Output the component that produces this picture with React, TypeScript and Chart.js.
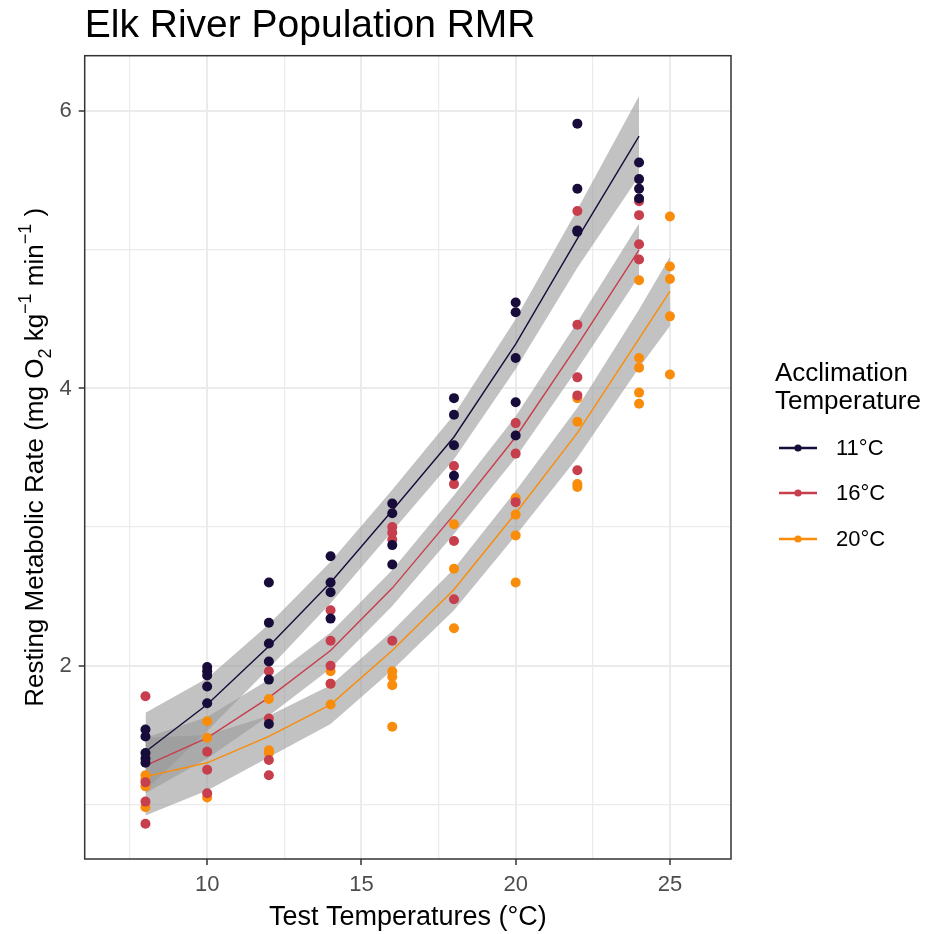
import React, { useEffect, useRef } from "react";
import { Chart, registerables } from "chart.js";

Chart.register(...registerables);

// ---------- data ----------
const testTemps = [8, 10, 12, 14, 16, 18, 20, 22, 24];
const testTemps20 = [8, 10, 12, 14, 16, 18, 20, 22, 24, 25];
const groupLabels = ["11°C", "16°C", "20°C"];
const groupColors = ["#170C3A", "#C73E4C", "#F98C0A"];

// observed RMR per test temperature (aligned with testTemps / testTemps20)
const rmr11 = [
  [1.54, 1.49, 1.37, 1.33, 1.3],
  [1.99, 1.96, 1.93, 1.85, 1.73],
  [2.6, 2.31, 2.16, 2.03, 1.9, 1.58],
  [2.79, 2.6, 2.53, 2.34],
  [3.17, 3.1, 2.87, 2.73],
  [3.93, 3.81, 3.59, 3.37],
  [4.62, 4.55, 4.22, 3.9, 3.66],
  [5.91, 5.44, 5.14, 5.13],
  [5.63, 5.51, 5.44, 5.37],
];
const rmr16 = [
  [1.78, 1.16, 1.02, 0.86],
  [1.38, 1.25, 1.08],
  [1.96, 1.62, 1.32, 1.21],
  [2.4, 2.18, 2.0, 1.87],
  [3.0, 2.96, 2.91, 2.18],
  [3.44, 3.31, 2.9, 2.48],
  [3.75, 3.53, 3.18],
  [5.28, 4.46, 4.08, 3.95, 3.41],
  [5.35, 5.25, 5.04, 4.93],
];
const rmr20 = [
  [1.21, 1.18, 1.13, 0.98],
  [1.6, 1.48, 1.05],
  [1.76, 1.39, 1.37],
  [1.96, 1.87, 1.72],
  [1.96, 1.92, 1.86, 1.56],
  [3.02, 2.7, 2.27],
  [3.21, 3.09, 2.94, 2.6],
  [3.93, 3.76, 3.31, 3.29],
  [4.78, 4.22, 4.15, 3.97, 3.89],
  [5.24, 4.88, 4.79, 4.52, 4.1],
];

// fitted values and confidence bands
const fit11 = [1.38, 1.72, 2.14, 2.6, 3.12, 3.65, 4.32, 5.08, 5.82];
const lower11 = [1.1, 1.53, 1.98, 2.45, 2.97, 3.49, 4.14, 4.87, 5.53];
const upper11 = [1.66, 1.91, 2.3, 2.75, 3.27, 3.81, 4.5, 5.29, 6.11];

const fit16 = [1.28, 1.48, 1.77, 2.11, 2.56, 3.09, 3.65, 4.31, 5.0];
const lower16 = [1.08, 1.33, 1.64, 1.98, 2.43, 2.95, 3.5, 4.14, 4.81];
const upper16 = [1.48, 1.63, 1.9, 2.24, 2.69, 3.23, 3.8, 4.48, 5.19];

const fit20 = [1.2, 1.3, 1.49, 1.72, 2.11, 2.55, 3.1, 3.68, 4.36, 4.7];
const lower20 = [0.92, 1.1, 1.34, 1.58, 1.97, 2.4, 2.94, 3.5, 4.15, 4.45];
const upper20 = [1.48, 1.5, 1.64, 1.86, 2.25, 2.7, 3.26, 3.86, 4.57, 4.95];

const xTicks = [7.5, 10, 12.5, 15, 17.5, 20, 22.5, 25];
const xMajor = [10, 15, 20, 25];
const yTicks = [1, 2, 3, 4, 5, 6];
const yMajor = [2, 4, 6];

const titleText = "Elk River Population RMR";
const xTitleText = "Test Temperatures (°C)";
const legendTitle = ["Acclimation", "Temperature"];

// ---------- layout ----------
const W = 927;
const H = 934;
const FONT = "'Liberation Sans', Arial, Helvetica, sans-serif";

const toPoints = (xs: number[], groups: number[][]) =>
  groups.flatMap((vals, i) => vals.map((v) => ({ x: xs[i], y: v })));
const toLine = (xs: number[], ys: number[]) => ys.map((v, i) => ({ x: xs[i], y: v }));

const decorPlugin = {
  id: "decor",
  afterDatasetsDraw(chart: any) {
    const { ctx, chartArea: a } = chart;
    ctx.save();
    ctx.strokeStyle = "#333333";
    ctx.lineWidth = 1.5;
    ctx.strokeRect(a.left, a.top, a.right - a.left, a.bottom - a.top);
    ctx.restore();
  },
  afterDraw(chart: any) {
    const { ctx, chartArea: a } = chart;
    ctx.save();
    ctx.fillStyle = "#000000";
    ctx.textBaseline = "alphabetic";

    // title
    ctx.font = `39px ${FONT}`;
    ctx.textAlign = "left";
    ctx.fillText(titleText, a.left, 37);

    // x title
    ctx.font = `27px ${FONT}`;
    ctx.textAlign = "center";
    ctx.fillText(xTitleText, (a.left + a.right) / 2, 925);

    // y title with sub/superscripts
    const size = 26;
    const small = Math.round(size * 0.7);
    const segs = [
      { t: "Resting Metabolic Rate (mg O", s: size, dy: 0 },
      { t: "2", s: small, dy: 0.3 * size },
      { t: " kg", s: size, dy: 0 },
      { t: "−1", s: small, dy: -0.45 * size },
      { t: " min", s: size, dy: 0 },
      { t: "−1", s: small, dy: -0.45 * size },
      { t: " )", s: size, dy: 0 },
    ];
    let total = 0;
    const widths = segs.map((sg) => {
      ctx.font = `${sg.s}px ${FONT}`;
      const w = ctx.measureText(sg.t).width;
      total += w;
      return w;
    });
    ctx.translate(43, (a.top + a.bottom) / 2);
    ctx.rotate(-Math.PI / 2);
    ctx.textAlign = "left";
    let cx = -total / 2;
    segs.forEach((sg, i) => {
      ctx.font = `${sg.s}px ${FONT}`;
      ctx.fillText(sg.t, cx, sg.dy);
      cx += widths[i];
    });
    ctx.setTransform(1, 0, 0, 1, 0, 0);

    // legend
    ctx.font = `26px ${FONT}`;
    ctx.textAlign = "left";
    ctx.fillText(legendTitle[0], 775, 381);
    ctx.fillText(legendTitle[1], 775, 409);
    const keyY = [448, 493, 539];
    groupLabels.forEach((lab, i) => {
      const y = keyY[i];
      ctx.strokeStyle = groupColors[i];
      ctx.lineWidth = 2.5;
      ctx.beginPath();
      ctx.moveTo(779, y);
      ctx.lineTo(817, y);
      ctx.stroke();
      ctx.fillStyle = groupColors[i];
      ctx.beginPath();
      ctx.arc(798, y, 3.6, 0, Math.PI * 2);
      ctx.fill();
      ctx.fillStyle = "#000000";
      ctx.font = `22px ${FONT}`;
      ctx.textBaseline = "middle";
      ctx.fillText(lab, 836, y + 1);
      ctx.textBaseline = "alphabetic";
    });
    ctx.restore();
  },
};

export default function App() {
  const ref = useRef<HTMLCanvasElement | null>(null);

  useEffect(() => {
    if (!ref.current) return;
    const band = "rgba(153,153,153,0.6)";
    const fits = [
      { xs: testTemps, fit: fit11, lo: lower11, hi: upper11, pts: rmr11 },
      { xs: testTemps, fit: fit16, lo: lower16, hi: upper16, pts: rmr16 },
      { xs: testTemps20, fit: fit20, lo: lower20, hi: upper20, pts: rmr20 },
    ];
    const datasets: any[] = [];
    fits.forEach((g, i) => {
      datasets.push({
        type: "scatter",
        label: groupLabels[i],
        data: toPoints(g.xs, g.pts),
        backgroundColor: groupColors[i],
        borderWidth: 0,
        pointRadius: 5,
        pointHoverRadius: 5,
        order: 0,
      });
    });
    fits.forEach((g, i) => {
      datasets.push({
        type: "line",
        label: groupLabels[i] + " fit",
        data: toLine(g.xs, g.fit),
        borderColor: groupColors[i],
        borderWidth: 1.4,
        pointRadius: 0,
        fill: false,
        tension: 0,
        order: 1,
      });
    });
    fits.forEach((g, i) => {
      datasets.push({
        type: "line",
        label: groupLabels[i] + " lower",
        data: toLine(g.xs, g.lo),
        borderColor: "transparent",
        borderWidth: 1,
        pointRadius: 0,
        fill: false,
        order: 2,
      });
      datasets.push({
        type: "line",
        label: groupLabels[i] + " upper",
        data: toLine(g.xs, g.hi),
        borderColor: "transparent",
        borderWidth: 1,
        pointRadius: 0,
        backgroundColor: band,
        fill: "-1",
        order: 2,
      });
    });

    const chart = new Chart(ref.current, {
      type: "scatter",
      data: { datasets },
      plugins: [decorPlugin],
      options: {
        responsive: false,
        devicePixelRatio: 1,
        animation: false,
        events: [],
        layout: { padding: { top: 55.7, right: W - 731, bottom: 0, left: 0 } },
        plugins: {
          legend: { display: false },
          tooltip: { enabled: false },
          title: { display: false },
        },
        scales: {
          x: {
            type: "linear",
            min: 6.03,
            max: 26.98,
            afterBuildTicks: (s: any) => {
              s.ticks = xTicks.map((v) => ({ value: v }));
            },
            afterFit: (s: any) => {
              s.height = H - 859;
            },
            ticks: {
              autoSkip: false,
              maxRotation: 0,
              padding: 7,
              color: "#4D4D4D",
              font: { size: 22, family: FONT },
              callback: (v: any) => (xMajor.includes(Number(v)) ? String(v) : ""),
            },
            grid: {
              color: "#EBEBEB",
              lineWidth: (c: any) => (xMajor.includes(c.tick?.value) ? 2 : 1.2),
              tickColor: (c: any) => (xMajor.includes(c.tick?.value) ? "#333333" : "rgba(0,0,0,0)"),
              tickWidth: 1.5,
              tickLength: 6,
              drawTicks: true,
            },
            border: { display: false },
          },
          y: {
            type: "linear",
            min: 0.606,
            max: 6.4,
            afterBuildTicks: (s: any) => {
              s.ticks = yTicks.map((v) => ({ value: v }));
            },
            afterFit: (s: any) => {
              s.width = 84.7;
            },
            ticks: {
              autoSkip: false,
              padding: 7,
              color: "#4D4D4D",
              font: { size: 22, family: FONT },
              callback: (v: any) => (yMajor.includes(Number(v)) ? String(v) : ""),
            },
            grid: {
              color: "#EBEBEB",
              lineWidth: (c: any) => (yMajor.includes(c.tick?.value) ? 2 : 1.2),
              tickColor: (c: any) => (yMajor.includes(c.tick?.value) ? "#333333" : "rgba(0,0,0,0)"),
              tickWidth: 1.5,
              tickLength: 6,
              drawTicks: true,
            },
            border: { display: false },
          },
        },
      },
    });
    return () => chart.destroy();
  }, []);

  return (
    <div style={{ position: "absolute", left: 0, top: 0, width: W, height: H, background: "#ffffff" }}>
      <canvas ref={ref} width={W} height={H} style={{ width: W, height: H, display: "block" }} />
    </div>
  );
}
